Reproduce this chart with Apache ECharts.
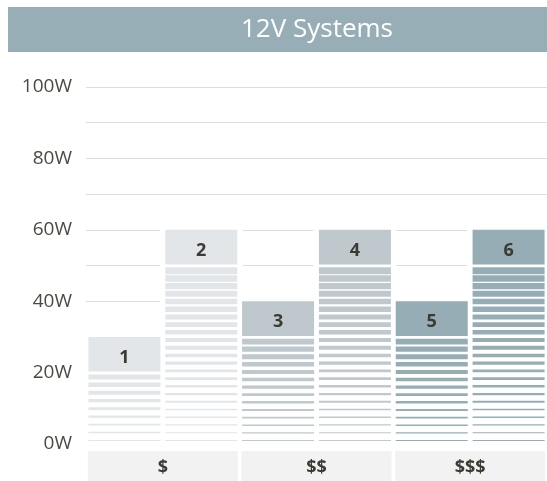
<!DOCTYPE html>
<html>
<head>
<meta charset="utf-8">
<script src="https://cdn.jsdelivr.net/npm/echarts@6/dist/echarts.min.js"></script>
<style>
  html, body { margin: 0; padding: 0; background: #fff; }
  #chart { width: 547px; height: 481px; }
</style>
</head>
<body>
<div id="chart"></div>
<script>
// data
const barLabels = ['1', '2', '3', '4', '5', '6']
const watts = [30, 60, 40, 60, 40, 60]
const priceGroups = ['$', '$$', '$$$']
const yTicks = [0, 20, 40, 60, 80, 100]
const yTickLabels = ['0W', '20W', '40W', '60W', '80W', '100W']

// one tint per price group, two bars per group
const groupColors = ['#e2e6e9', '#bec8cd', '#97adb6']
const textDark = '#3b3b33'
const font = '"Open Sans", "Noto Sans", sans-serif'

const chart = echarts.init(document.getElementById('chart'))

const BAR_W = 72
const CAP = 10 // solid top block, in watts

function bandWidth(api) {
  return api.size([1, 0])[0]
}

// white backing so gridlines don't run through the columns
const renderBacking = (params, api) => {
  const i = api.value(0)
  const v = api.value(1)
  const [cx, yTop] = api.coord([i, v])
  const y0 = api.coord([i, 0])[1]
  const bw = bandWidth(api)
  return {
    type: 'rect',
    shape: { x: cx - bw / 2 - 3, y: yTop - 1.5, width: bw + 6, height: y0 - yTop + 4 },
    style: { fill: '#fff' },
  }
}

const renderBar = (params, api) => {
  const i = api.value(0)
  const v = api.value(1)
  const [cx, yTop] = api.coord([i, v])
  const yCap = api.coord([i, v - CAP])[1]
  const x = cx - BAR_W / 2
  const color = groupColors[Math.floor(i / 2)]
  const children = [
    {
      type: 'rect',
      shape: { x, y: yTop, width: BAR_W, height: yCap - yTop - 1 },
      style: { fill: color },
    },
    {
      type: 'text',
      style: {
        text: barLabels[i],
        x: cx,
        y: (yTop + yCap) / 2 + 3,
        align: 'center',
        verticalAlign: 'middle',
        fontFamily: font,
        fontWeight: 'bold',
        fontSize: 18,
        fill: textDark,
      },
    },
  ]
  // striped body below the block, stripes thin out towards the floor
  const region = v - CAP
  const n = Math.round(region / 2.2)
  const top = region - 0.5
  const bottom = 1.1
  const tMax = 4 + region * 0.06
  for (let k = 0; k < n; k++) {
    const val = bottom + (k * (top - bottom)) / (n - 1)
    const r = val / region
    const yk = api.coord([i, val])[1]
    const t = 0.8 + (tMax - 0.8) * Math.pow(r, 1.2)
    children.push({
      type: 'rect',
      shape: { x, y: yk, width: BAR_W, height: t },
      style: { fill: color },
    })
  }
  return { type: 'group', children }
}

const seriesData = watts.map((w, i) => [i, w])

chart.setOption({
  animation: false,
  graphic: [
    {
      type: 'rect',
      left: 8,
      top: 7,
      z: 0,
      shape: { width: 539, height: 45 },
      style: { fill: '#98aeb7' },
    },
  ],
  title: {
    text: '12V Systems',
    left: 236,
    top: 12,
    z: 10,
    textStyle: { color: '#fff', fontSize: 26, fontWeight: 'normal', fontFamily: font },
  },
  grid: {
    left: 86,
    right: 0,
    top: 87,
    bottom: 37,
    outerBoundsMode: 'none',
  },
  xAxis: [
    {
      type: 'category',
      data: barLabels,
      show: false,
    },
    {
      type: 'category',
      data: priceGroups,
      position: 'bottom',
      axisLine: { show: false },
      axisTick: { show: false },
      axisLabel: {
        margin: 7,
        width: 150,
        height: 40,
        lineHeight: 34,
        align: 'center',
        verticalAlign: 'top',
        backgroundColor: '#f2f2f2',
        color: textDark,
        fontFamily: font,
        fontWeight: 'bold',
        fontSize: 18,
      },
    },
  ],
  yAxis: {
    type: 'value',
    min: 0,
    max: 100,
    interval: 10,
    axisLine: { show: false },
    axisTick: { show: false },
    splitLine: { lineStyle: { color: '#deded8', width: 1 } },
    axisLabel: {
      margin: 14,
      padding: [0, 0, 4, 0],
      color: '#4a4a42',
      fontFamily: font,
      fontSize: 19,
      formatter: (v) => {
        const idx = yTicks.indexOf(v)
        return idx >= 0 ? yTickLabels[idx] : ''
      },
    },
  },
  series: [
    {
      type: 'custom',
      name: 'backing',
      xAxisIndex: 0,
      z: 1,
      renderItem: renderBacking,
      data: seriesData,
    },
    {
      type: 'custom',
      name: 'Watts',
      xAxisIndex: 0,
      z: 2,
      renderItem: renderBar,
      data: seriesData,
    },
  ],
})
</script>
</body>
</html>
